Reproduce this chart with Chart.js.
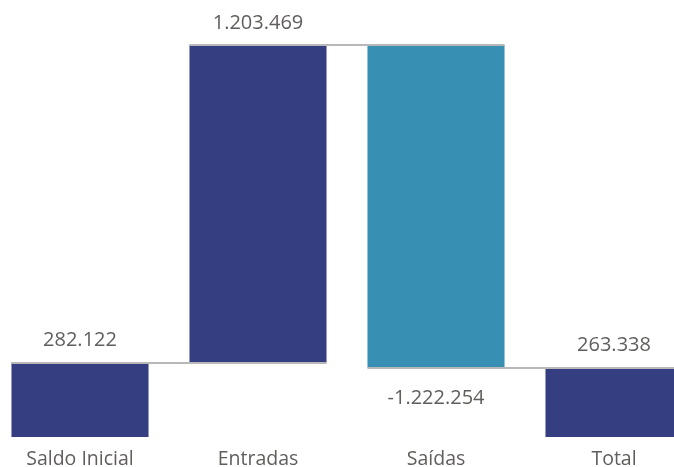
<!DOCTYPE html>
<html>
<head>
<meta charset="utf-8">
<script src="https://cdn.jsdelivr.net/npm/chart.js@4"></script>
<style>
    html, body { margin: 0; padding: 0; background: #fff; overflow: hidden; }
    body { width: 674px; height: 467px; position: relative; }
    #wrap { position: absolute; left: -9px; top: 0; width: 712px; height: 467px; }
</style>
</head>
<body>
<div id="wrap"><canvas id="chartWaterfall"></canvas></div>
<script>
const categories = ["Saldo Inicial", "Entradas", "Saídas", "Total"];
const changes = [282122, 1203469, -1222254, 263338];
const kinds = ["total", "step", "step", "total"];

const colorTotal = "#343e80";
const colorUp = "#343e80";
const colorDown = "#388fb4";

// monta as barras flutuantes a partir dos valores
const ranges = [];
const levels = [];
let running = 0;
for (let i = 0; i < changes.length; i++) {
    if (kinds[i] === "total") {
        ranges.push([0, changes[i]]);
        running = changes[i];
    } else {
        ranges.push([running, running + changes[i]]);
        running += changes[i];
    }
    levels.push(running);
}
const peak = Math.max(...ranges.map(r => Math.max(r[0], r[1])));

function fmt(v) {
    const s = Math.abs(Math.round(v)).toString().replace(/\B(?=(\d{3})+(?!\d))/g, ".");
    return (v < 0 ? "-" : "") + s;
}

const connectors = {
    id: "connectors",
    afterDatasetsDraw(chart) {
        const bars = chart.getDatasetMeta(0).data;
        const y = chart.scales.y;
        const ctx = chart.ctx;
        ctx.save();
        ctx.strokeStyle = "#b8b8b8";
        ctx.lineWidth = 2;
        for (let i = 0; i < bars.length - 1; i++) {
            const py = Math.round(y.getPixelForValue(levels[i]));
            ctx.beginPath();
            ctx.moveTo(bars[i].x - bars[i].width / 2, py);
            ctx.lineTo(bars[i + 1].x + bars[i + 1].width / 2, py);
            ctx.stroke();
        }
        ctx.restore();
    }
};

const valueLabels = {
    id: "valueLabels",
    afterDatasetsDraw(chart) {
        const bars = chart.getDatasetMeta(0).data;
        const ctx = chart.ctx;
        ctx.save();
        ctx.font = "20px 'Open Sans'";
        ctx.fillStyle = "#605e5c";
        ctx.textAlign = "center";
        ctx.textBaseline = "middle";
        bars.forEach((b, i) => {
            const top = Math.min(b.y, b.base);
            const bottom = Math.max(b.y, b.base);
            if (changes[i] < 0) {
                ctx.fillText(fmt(changes[i]), b.x, bottom + 31);
            } else {
                ctx.fillText(fmt(changes[i]), b.x, top - 22);
            }
        });
        ctx.restore();
    }
};

new Chart(document.getElementById("chartWaterfall").getContext("2d"), {
    type: "bar",
    data: {
        labels: categories,
        datasets: [
            {
                data: ranges,
                backgroundColor: changes.map((v, i) => kinds[i] === "total" ? colorTotal : (v < 0 ? colorDown : colorUp)),
                borderWidth: 0,
                borderSkipped: false,
                categoryPercentage: 1,
                barPercentage: 0.77
            }
        ]
    },
    options: {
        responsive: true,
        maintainAspectRatio: false,
        animation: false,
        layout: { padding: { top: 45, left: 0, right: 0, bottom: 0 } },
        scales: {
            x: {
                grid: { display: false },
                border: { display: false },
                ticks: { color: "#605e5c", font: { family: "'Open Sans'", size: 19.5 }, padding: 3, maxRotation: 0 },
                afterFit: s => { s.height = 30; }
            },
            y: { display: false, min: 0, max: peak }
        },
        plugins: {
            legend: { display: false },
            tooltip: { enabled: false }
        }
    },
    plugins: [connectors, valueLabels]
});
</script>
</body>
</html>
